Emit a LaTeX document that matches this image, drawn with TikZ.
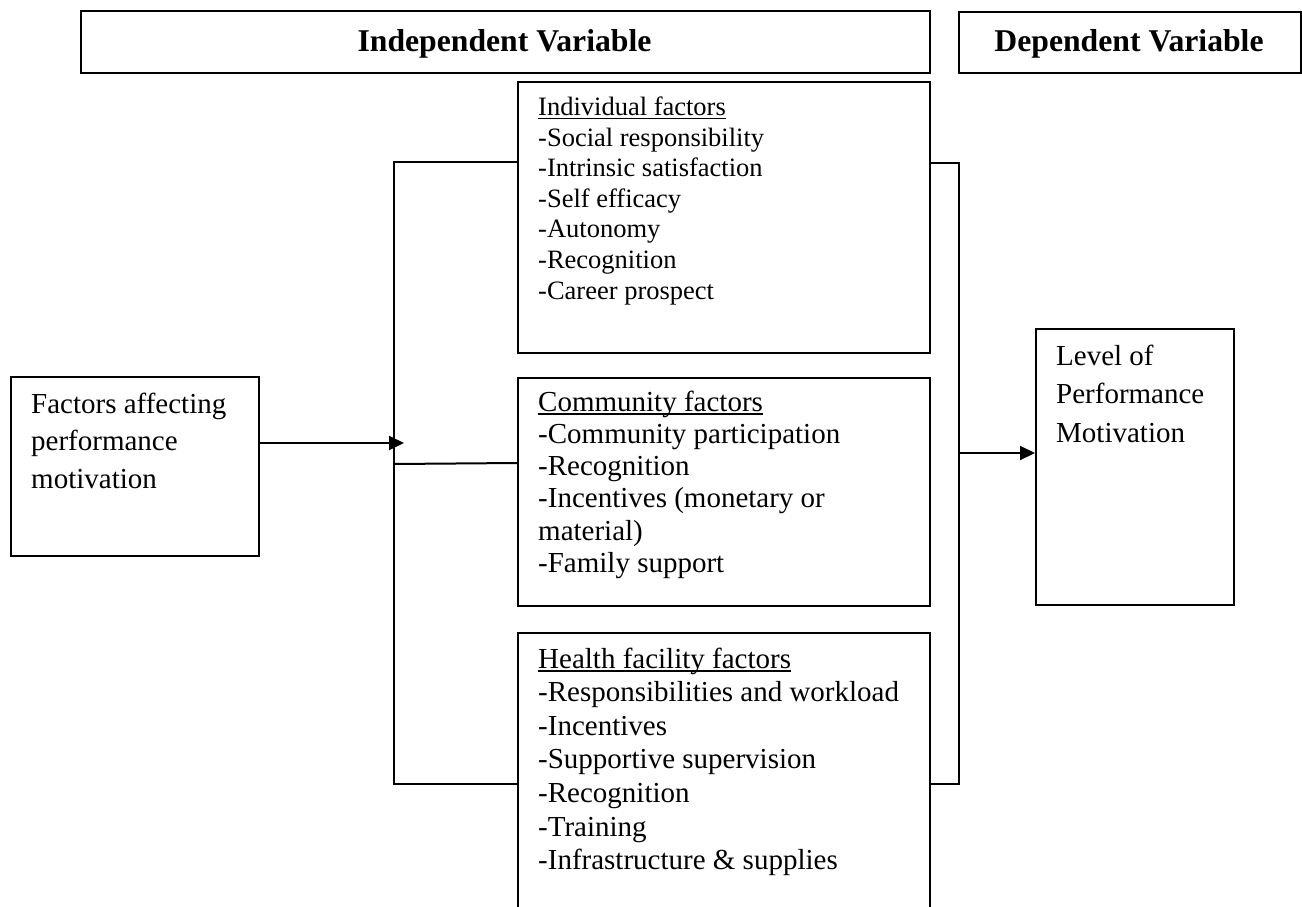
\documentclass[tikz,border=0pt]{standalone}
\usepackage{fontspec}
\setmainfont{Liberation Serif}
\usetikzlibrary{arrows.meta}
\newcommand\ulhead[1]{\leavevmode\setbox0\hbox{#1}\rlap{\rule[-4pt]{\wd0}{1.8pt}}#1}
\begin{document}
\begin{tikzpicture}[x=1pt,y=-1pt,
  box/.style={draw, line width=2pt, rectangle, anchor=north west, inner sep=0pt},
  txt/.style={anchor=base west, inner sep=0pt},
  head/.style={anchor=base, inner sep=0pt, font=\fontsize{31.7}{36}\selectfont\bfseries},
  conn/.style={line width=2pt},
  arr/.style={line width=2pt, -{Triangle[length=15pt,width=14pt]}}]
\useasboundingbox (0,0) rectangle (1302,907);
\clip (0,0) rectangle (1302,907);

% header boxes
\node[box, minimum width=849pt, minimum height=62pt] (indep) at (80,10) {};
\node[box, minimum width=342pt, minimum height=61pt] (dep) at (958,11) {};
\node[head] (indepT) at (504.5,52) {Independent Variable};
\node[head] (depT) at (1129,52) {Dependent Variable};

% boxes
\node[box, minimum width=248pt, minimum height=179pt] (fac) at (10,376) {};
\node[box, minimum width=412pt, minimum height=271pt] (ind) at (517,81) {};
\node[box, minimum width=412pt, minimum height=228pt] (com) at (517,377) {};
\node[box, minimum width=412pt, minimum height=330pt] (hea) at (517,632) {};
\node[box, minimum width=198pt, minimum height=276pt] (lev) at (1035,328) {};

% texts
\node[txt] (facT) at (31,413) {\parbox[t]{220pt}{\fontsize{29}{37.5}\selectfont
Factors affecting\\performance\\motivation}};
\node[txt] (indT) at (538,115.5) {\parbox[t]{380pt}{\fontsize{26.5}{30.6}\selectfont
\ulhead{Individual factors}\\-Social responsibility\\-Intrinsic satisfaction\\-Self efficacy\\-Autonomy\\-Recognition\\-Career prospect}};
\node[txt] (comT) at (538,411) {\parbox[t]{380pt}{\fontsize{29}{32.3}\selectfont
\ulhead{Community factors}\\-Community participation\\-Recognition\\-Incentives (monetary or\\material)\\-Family support}};
\node[txt] (heaT) at (538,668) {\parbox[t]{385pt}{\fontsize{29}{33.6}\selectfont
\ulhead{Health facility factors}\\-Responsibilities and workload\\-Incentives\\-Supportive supervision\\-Recognition\\-Training\\-Infrastructure \& supplies}};
\node[txt] (levT) at (1056,365) {\parbox[t]{175pt}{\fontsize{29}{38.8}\selectfont
Level of\\Performance\\Motivation}};

% connectors
\coordinate (la) at (404,443);
\coordinate (lb1) at (394,162);
\coordinate (lb2) at (394,784);
\coordinate (lc) at (394,464);
\coordinate (lc2) at (517,463);
\coordinate (rb1) at (959,163);
\coordinate (rb2) at (959,784);
\coordinate (ra) at (959,453);

\draw[arr] (fac.east |- la) -- (la);
\draw[conn] (ind.west |- lb1) -- (lb1) -- (lb2) -- (hea.west |- lb2);
\draw[conn] (lc) -- (com.west |- lc2);
\draw[conn] (ind.east |- rb1) -- (rb1) -- (rb2) -- (hea.east |- rb2);
\draw[arr] (ra) -- (lev.west |- ra);
\end{tikzpicture}
\end{document}
